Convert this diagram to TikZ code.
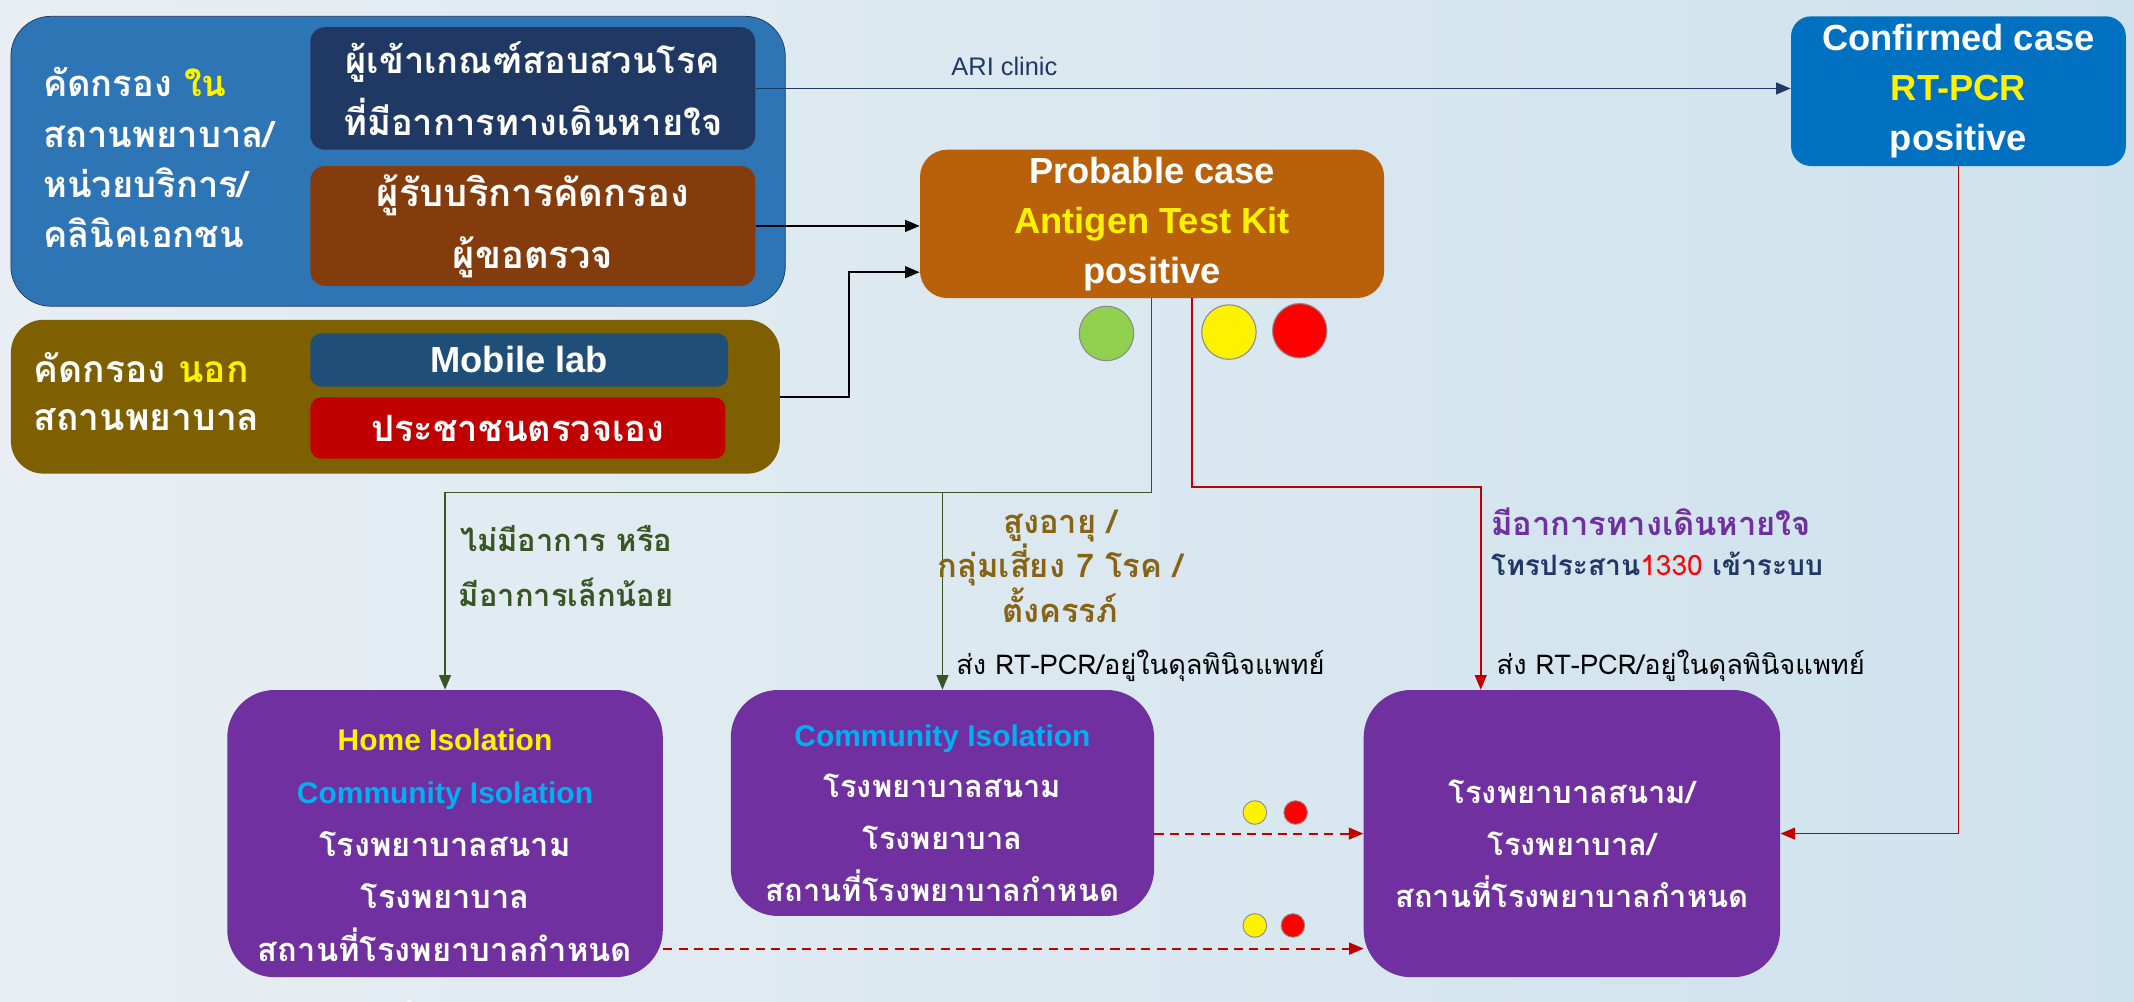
\documentclass[tikz,border=0pt]{standalone}
\usepackage{fontspec}
\setmainfont{Liberation Sans}
\newfontfamily\thaifont[Script=Thai]{Loma}
\usetikzlibrary{arrows.meta}

\definecolor{bgleft}{RGB}{232,238,243}
\definecolor{bgright}{RGB}{206,226,237}
\definecolor{outerblue}{RGB}{46,117,182}
\definecolor{navybox}{RGB}{32,56,100}
\definecolor{brownbox}{RGB}{132,60,12}
\definecolor{olivebox}{RGB}{127,96,0}
\definecolor{mobilebox}{RGB}{31,78,121}
\definecolor{redbox}{RGB}{192,0,0}
\definecolor{probbox}{RGB}{184,96,10}
\definecolor{confbox}{RGB}{0,112,192}
\definecolor{purplebox}{RGB}{112,48,160}
\definecolor{greenline}{RGB}{55,86,35}
\definecolor{goldtext}{RGB}{135,100,20}
\definecolor{cyantext}{RGB}{0,176,240}
\definecolor{lightgreen}{RGB}{146,208,80}

\newcommand{\latinline}[1]{{\rmfamily\bfseries\fontsize{16.5}{29}\selectfont #1}}

\begin{document}
\begin{tikzpicture}[x=0.75pt,y=0.75pt,yscale=-1,xscale=1,
  box/.style={rounded corners=8pt, inner sep=0pt, align=center, text=white},
  thaibig/.style={font={\thaifont\bfseries\fontsize{21}{34}\selectfont}},
  latinbig/.style={font={\bfseries\fontsize{20}{27.5}\selectfont}},
  purplebig/.style={box, fill=purplebox, rounded corners=26pt},
  isotext/.style={align=center, text=white, inner sep=0pt, yshift=-5.5pt, font={\thaifont\bfseries\fontsize{17}{28.5}\selectfont}},
  lamp/.style={circle, draw=black!45, line width=0.6pt, inner sep=0pt, minimum size=30pt},
  minilamp/.style={circle, draw=black!45, line width=0.5pt, inner sep=0pt, minimum size=13pt},
  gline/.style={draw=greenline, line width=0.9pt},
  rline/.style={draw=redbox, line width=0.9pt},
  dline/.style={draw=redbox, line width=1.1pt, dash pattern={on 5pt off 3.5pt}},
  tip/.style={-{Triangle[length=8pt,width=6.5pt]}}
]
\useasboundingbox (0,0) rectangle (1568,736);
\shade[left color=bgleft, right color=bgright] (0,0) rectangle (1568,736);

%Shape: screening inside
\node[box, fill=outerblue, draw=navybox, rounded corners=22pt, minimum width=426.75pt, minimum height=159.75pt] (inside) at (292.5,118.5) {};
\node[box, fill=navybox, font={\thaifont\bfseries\fontsize{20}{34}\selectfont}, minimum width=245.25pt, minimum height=67.5pt] (navy) at (391.5,65) {ผู้เข้าเกณฑ์สอบสวนโรค\\ที่มีอาการทางเดินหายใจ};
\node[box, fill=brownbox, thaibig, minimum width=245.25pt, minimum height=66pt] (brown) at (391.5,166) {ผู้รับบริการคัดกรอง\\ผู้ขอตรวจ};
% Text Node
\node[anchor=west, align=left, text=white, font={\thaifont\bfseries\fontsize{20}{27.75}\selectfont}] (intxt) at (27,116) {คัดกรอง \textcolor{yellow}{ใน}\\สถานพยาบาล/\\หน่วยบริการ/\\คลินิคเอกชน};

%Shape: screening outside
\node[box, fill=olivebox, rounded corners=18pt, minimum width=423.75pt, minimum height=84.75pt] (outside) at (290.5,291.5) {};
\node[box, fill=mobilebox, latinbig, rounded corners=6pt, minimum width=230.25pt, minimum height=29.25pt] (mobile) at (381.5,264.5) {Mobile lab};
\node[box, fill=redbox, font={\thaifont\bfseries\fontsize{20}{24}\selectfont}, rounded corners=6pt, minimum width=228.75pt, minimum height=33.75pt] (self) at (380.5,314.5) {ประชาชนตรวจเอง};
% Text Node
\node[anchor=west, align=left, text=white, font={\thaifont\bfseries\fontsize{20.5}{26.5}\selectfont}] (outtxt) at (20,287.5) {คัดกรอง \textcolor{yellow}{นอก}\\สถานพยาบาล};

%Shape: probable case
\node[box, fill=probbox, latinbig, rounded corners=15pt, minimum width=255.75pt, minimum height=81.75pt] (prob) at (846.5,164.5) {Probable case\\\textcolor{yellow}{Antigen Test Kit}\\positive};
%Shape: confirmed case
\node[box, fill=confbox, latinbig, rounded corners=11pt, minimum width=184.5pt, minimum height=82.5pt] (conf) at (1439,67) {Confirmed case\\\textcolor{yellow}{RT-PCR}\\positive};

%Shape: lamps
\node[lamp, fill=lightgreen] (lgreen) at (813,245) {};
\node[lamp, fill=yellow] (lyellow) at (903,244) {};
\node[lamp, fill=red] (lred) at (955,243) {};

%Shape: isolation boxes
\node[purplebig, minimum width=240pt, minimum height=158.25pt] (home) at (327,612.5) {};
\node[isotext, font={\thaifont\bfseries\fontsize{18}{29}\selectfont}, yshift=-1pt] (hometxt) at (home.center) {\latinline{\textcolor{yellow}{Home Isolation}}\\\latinline{\textcolor{cyantext}{Community Isolation}}\\โรงพยาบาลสนาม\\โรงพยาบาล\\สถานที่โรงพยาบาลกำหนด};
\node[purplebig, minimum width=233.25pt, minimum height=124.5pt] (comm) at (692.5,590) {};
\node[isotext] (commtxt) at (comm.center) {\latinline{\textcolor{cyantext}{Community Isolation}}\\โรงพยาบาลสนาม\\โรงพยาบาล\\สถานที่โรงพยาบาลกำหนด};
\node[purplebig, minimum width=229.5pt, minimum height=158.25pt] (hosp) at (1155,612.5) {};
\node[isotext] (hosptxt) at (hosp.center) {โรงพยาบาลสนาม/\\โรงพยาบาล/\\สถานที่โรงพยาบาลกำหนด};
% Text Node
\node[text=white, opacity=0.7, font={\thaifont\bfseries\fontsize{18}{22}\selectfont}] (cutoff) at (328,745) {กำหนด};

%Straight Lines
\draw[draw=navybox, line width=0.9pt, tip] (navy.east) -- (navy.east -| conf.west);
\node[anchor=south, text=navybox, font={\fontsize{14}{16}\selectfont}] (ari) at (738,60) {ARI clinic};
\draw[line width=0.9pt, tip] (brown.east) -- (brown.east -| prob.west);
\coordinate (obend) at (624,200);
\draw[line width=0.9pt, tip] (outside.east) -| (obend) -- (obend -| prob.west);

%Straight Lines green
\coordinate (gsplit) at (846,362);
\draw[gline, tip] (prob.south -| gsplit) -- (gsplit) -| (home.north);
\draw[gline, tip] (gsplit -| comm.north) -- (comm.north);
% Text Node
\node[text=greenline, align=center, font={\thaifont\bfseries\fontsize{17}{30}\selectfont}] (mild) at (416,416) {ไม่มีอาการ หรือ\\มีอาการเล็กน้อย};
\node[text=goldtext, align=center, font={\thaifont\bfseries\fontsize{18}{22.5}\selectfont}] (risk) at (779,416) {สูงอายุ /\\กลุ่มเสี่ยง 7 โรค /\\ตั้งครรภ์};
\node[anchor=west, font={\thaifont\fontsize{15}{18}\selectfont}] (pcrA) at (698,489) {ส่ง RT-PCR/อยู่ในดุลพินิจแพทย์};

%Straight Lines red
\coordinate (rtop) at (876,358);
\coordinate (rdrop) at (1088,358);
\draw[rline, tip] (prob.south -| rtop) -- (rtop) -- (rdrop) -- (rdrop |- hosp.north);
\draw[rline, tip] (conf.south) |- (hosp.east);
% Text Node
\node[anchor=west, align=left, font={\thaifont\bfseries\fontsize{18}{22}\selectfont}] (resp) at (1091,398) {\textcolor{purplebox}{มีอาการทางเดินหายใจ}\\\textcolor{navybox}{\fontsize{15.5}{22}\selectfont โทรประสาน\textcolor{red}{\mdseries 1330} เข้าระบบ}};
\node[anchor=west, font={\thaifont\fontsize{15}{18}\selectfont}] (pcrB) at (1095,489) {ส่ง RT-PCR/อยู่ในดุลพินิจแพทย์};

%Straight Lines dashed
\draw[dline, tip] (hosp.west -| comm.east) -- (hosp.west);
\coordinate (lowdash) at (1002,697);
\draw[dline, tip] (lowdash -| home.east) -- (lowdash);

%Shape: small lamps
\node[minilamp, fill=yellow] (syA) at (922,597) {};
\node[minilamp, fill=red] (srA) at (952,597) {};
\node[minilamp, fill=yellow] (syB) at (922,680) {};
\node[minilamp, fill=red] (srB) at (950,680) {};

\end{tikzpicture}
\end{document}
